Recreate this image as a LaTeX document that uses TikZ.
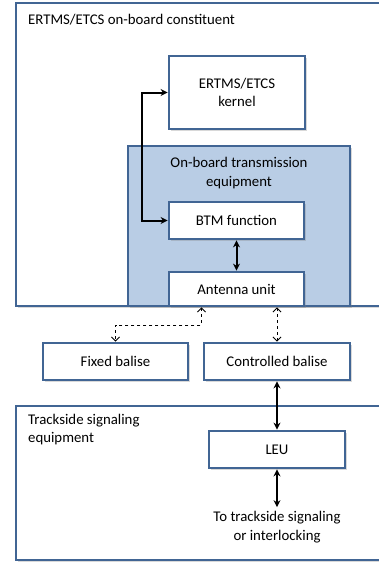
\documentclass[tikz,border=0pt]{standalone}
\usepackage{fontspec}
\setmainfont{Carlito}
\usetikzlibrary{shapes.geometric, arrows, arrows.meta, shadows}
\definecolor{frameblue}{RGB}{65,101,148}
\definecolor{paleblue}{RGB}{185,205,229}
\tikzstyle{container} = [rectangle,
draw=frameblue,
line width=2.8pt,
fill=white,
drop shadow={shadow xshift=1.5pt, shadow yshift=-1.5pt, opacity=0.3}]
\tikzstyle{equipment} = [container,
fill=paleblue]
\tikzstyle{unit} = [container,
text centered,
align=center,
minimum width=135pt,
minimum height=37pt]
\tikzstyle{caption} = [align=left, inner sep=0pt]
\tikzstyle{arrow} = [line width=2pt, {Stealth[length=7pt,width=7pt]}-{Stealth[length=7pt,width=7pt]}]
\tikzstyle{airgap} = [line width=0.9pt, dashed, {Straight Barb[length=4pt,width=8pt]}-{Straight Barb[length=4pt,width=8pt]}]

\begin{document}
\begin{tikzpicture}[x=1pt, y=-1pt, font=\fontsize{14.8}{18.5}\selectfont]
			\useasboundingbox (0,0) rectangle (379,563);
			\clip (0,0) rectangle (379,563);
			% on-board part
			\node (onboard) [container, minimum width=390pt, minimum height=303pt] at (211,154.5) {};
			\node (onboardtitle) [caption, anchor=base west] at (28,24) {ERTMS/ETCS on-board constituent};
			\node (kernel) [unit, minimum width=136pt, minimum height=73pt] at (237,92.5) {ERTMS/ETCS\\kernel};
			\node (obte) [equipment, minimum width=222pt, minimum height=160pt] at (239,226) {};
			\node (obtetitle) [caption, align=center] at (239,173) {On-board transmission\\equipment};
			\node (btm) [unit] at (236.5,220.5) {BTM function};
			\node (antenna) [unit, minimum height=34pt] at (236.5,289) {Antenna unit};
			% balises
			\node (fixed) [unit, minimum width=145pt] at (115.5,361.5) {Fixed balise};
			\node (controlled) [unit, minimum width=146pt] at (277,361.5) {Controlled balise};
			% trackside part
			\node (trackside) [container, minimum width=390pt, minimum height=154pt] at (211,483) {};
			\node (tracksidetitle) [caption, anchor=north west] at (28,414) {Trackside signaling\\equipment};
			\node (leu) [unit, minimum width=136pt] at (277,449.5) {LEU};
			\node (interlocking) [caption, align=center] at (277,527) {To trackside signaling\\or interlocking};

			\draw[arrow] (kernel.west) -- ++(-26,0) |- (btm.west);
			\draw[arrow] (btm) -- (antenna);
			\draw[airgap] ([xshift=-35pt]antenna.south) -- ++(0,18) -| (fixed.north);
			\draw[airgap] (controlled.north |- antenna.south) -- (controlled.north);
			\draw[arrow] (controlled) -- (leu);
			\draw[arrow] (leu.south) -- ([yshift=4pt]interlocking.north);
		\end{tikzpicture}
\end{document}
